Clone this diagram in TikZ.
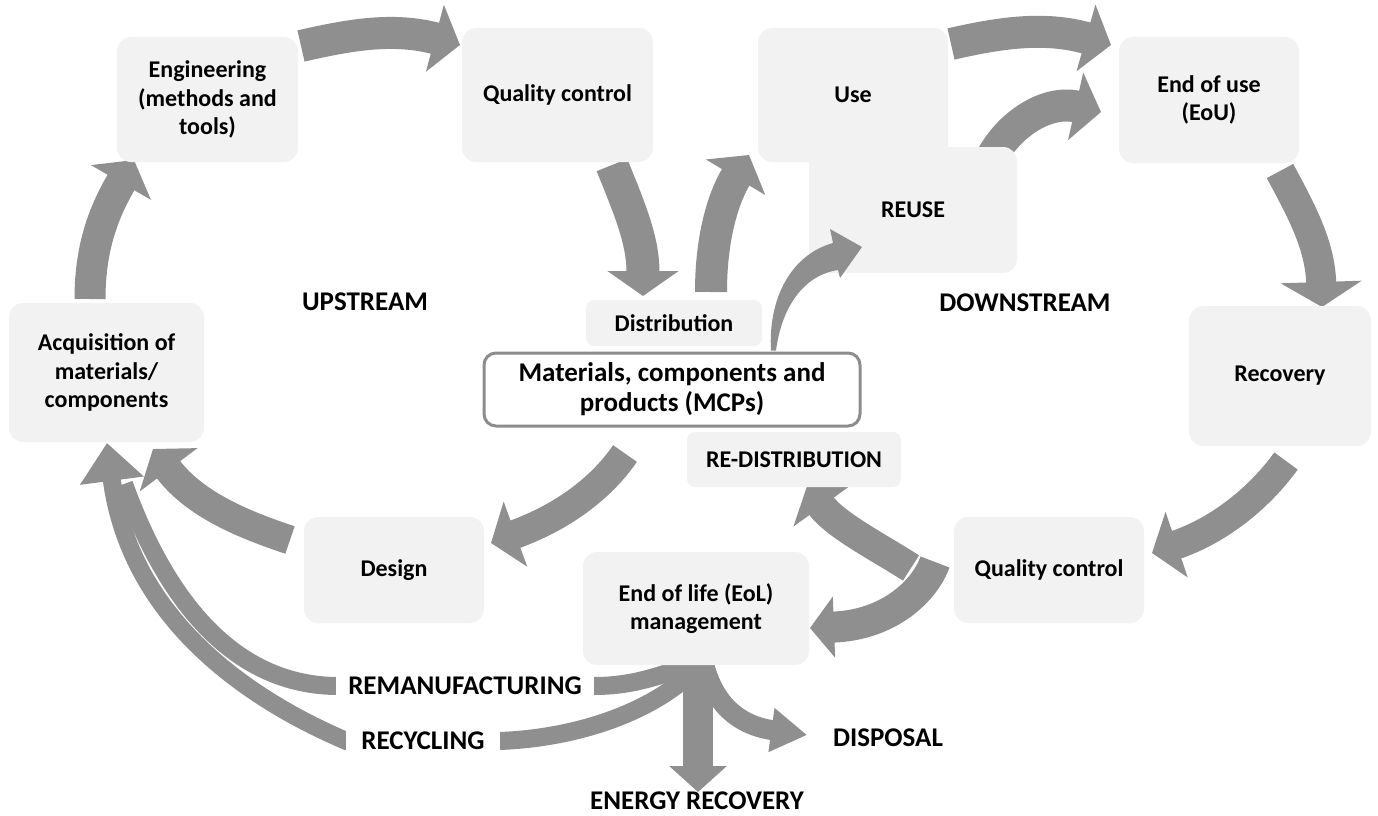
\documentclass[tikz,border=0pt]{standalone}
\usepackage{fontspec}
\setmainfont{Carlito}
\usetikzlibrary{arrows.meta,backgrounds}

\definecolor{boxgray}{HTML}{F2F2F2}
\definecolor{arrowgray}{HTML}{8F8F8F}
\definecolor{framegray}{HTML}{8C8C8C}

\tikzset{
  stage/.style={fill=boxgray, rounded corners=14pt, align=center, inner sep=2pt, outer sep=0pt,
    font=\bfseries\fontsize{24}{28.5}\selectfont},
  tag/.style={font=\bfseries\fontsize{27}{32}\selectfont, inner sep=2pt, outer sep=0pt},
  flow/.style={draw=arrowgray, line width=#1, line cap=butt, -{Triangle[length=26pt, width=68pt]}},
  flow/.default=31pt,
}

\begin{document}
\begin{tikzpicture}[x=1pt, y=-1pt]
\useasboundingbox (0,0) rectangle (1378,816);

% stages
\node[stage, minimum width=181pt, minimum height=125pt] (eng)    at (207.5,99.5) {Engineering\\(methods and\\tools)};
\node[stage, minimum width=191pt, minimum height=134pt] (qcup)   at (557.5,95)   {Quality control};
\node[stage, minimum width=190pt, minimum height=134pt] (use)    at (853,95)     {Use};
\node[stage, minimum width=208pt, minimum height=126pt] (reuse)  at (913,210)    {REUSE};
\node[stage, minimum width=180pt, minimum height=126pt] (eou)    at (1209,100)   {End of use\\(EoU)};
\node[stage, minimum width=182pt, minimum height=140pt] (recov)  at (1280,376)   {Recovery};
\node[stage, minimum width=190pt, minimum height=106pt] (qcdown) at (1049,570)   {Quality control};
\node[stage, minimum width=214pt, minimum height=55pt, rounded corners=8pt] (redist) at (794,459.5) {RE-DISTRIBUTION};
\node[stage, minimum width=226pt, minimum height=113pt] (eol)    at (696,608.5)  {End of life (EoL)\\management};
\node[stage, minimum width=180pt, minimum height=106pt] (design) at (394,570)    {Design};
\node[stage, minimum width=195pt, minimum height=139pt] (acq)    at (106.5,372.5) {Acquisition of\\materials/\\components};
\node[stage, minimum width=176pt, minimum height=46pt, rounded corners=8pt] (dist) at (674,323) {Distribution};
\node[draw=framegray, line width=3pt, fill=white, rounded corners=12pt, minimum width=376pt, minimum height=73pt,
  align=center, font=\bfseries\fontsize{27}{30}\selectfont] (mcp) at (672,389.5) {Materials, components and\\products (MCPs)};

% free labels
\node[tag] (up)   at (365,302)  {UPSTREAM};
\node[tag] (down) at (1025,303) {DOWNSTREAM};
\node[tag, fill=white, inner xsep=12pt, inner ysep=6pt] (reman) at (465,686) {REMANUFACTURING};
\node[tag, fill=white, inner xsep=15pt, inner ysep=6pt] (recyc) at (423,741) {RECYCLING};
\node[tag] (disp)   at (888,738) {DISPOSAL};
\node[tag] (energy) at (697,801) {ENERGY RECOVERY};

\begin{scope}[on background layer]
  % upstream loop
  \draw[flow=32pt] ([shift={(3,9)}]eng.north east) .. controls (349,35) and (393,27) .. ([shift={(-2,17)}]qcup.north west);
  \draw[flow=33pt, -{Triangle[length=25pt, width=70pt]}] ([shift={(54.5,3)}]qcup.south) .. controls (630,210) and (643,240) .. ([shift={(-31,-4)}]dist.north);
  \draw[flow=32pt] ([shift={(37,-8)}]dist.north) .. controls (711,240) and (722,200) .. ([shift={(-9,-7)}]use.south west);
  \draw[flow=29pt] ([shift={(-47,26)}]mcp.south) .. controls (600,490) and (560,518) .. ([shift={(7,-27)}]design.east);
  \draw[flow=29pt, -{Triangle[length=26pt, width=71pt]}] ([shift={(-14,-30)}]design.west) .. controls (245,525) and (195,505) .. ([shift={(46.5,7)}]acq.south);
  \draw[flow=31pt] ([shift={(-16.5,-4)}]acq.north) .. controls (90,245) and (105,210) .. ([shift={(17,-2)}]eng.south west);
  % downstream loop
  \draw[flow=32pt] ([shift={(3,16)}]use.north east) .. controls (999,33) and (1044,26) .. ([shift={(-8,8)}]eou.north west);
  \draw[flow=32pt] ([shift={(72,25)}]reuse.north) .. controls (1000,130) and (1043,99) .. ([shift={(-18,12)}]eou.west);
  \draw[flow=30pt, -{Triangle[length=25pt, width=80pt]}] ([shift={(71,8)}]eou.south) .. controls (1302,212) and (1320,245) .. ([shift={(42,1)}]recov.north);
  \draw[flow=29pt] ([shift={(6,15)}]recov.south) .. controls (1260,497) and (1220,530) .. ([shift={(8,-17)}]qcdown.east);
  \draw[flow=31pt, -{Triangle[length=24pt, width=60pt]}] ([shift={(-19,-8)}]qcdown.west) .. controls (925,590) and (890,625) .. ([shift={(1,19.5)}]eol.east);
  \draw[flow=30pt, -{Triangle[length=25pt, width=68pt]}] ([shift={(-43,-2)}]qcdown.west) .. controls (880,548) and (835,525) .. ([shift={(13,-1)}]redist.south);
  % end of life options
  \draw[flow=18pt, -] ([shift={(4,-5)}]eol.south) .. controls (650,682) and (620,686) .. (reman.east) -- (reman.west)
    .. controls (250,685) and (175,625) .. ([shift={(17.5,42)}]acq.south);
  \draw[flow=18pt, -{Triangle[length=38pt, width=62pt]}] ([shift={(6,-3)}]eol.south) .. controls (660,710) and (580,738) .. (recyc.east) -- (recyc.west)
    .. controls (250,700) and (130,620) .. ([shift={(0.5,1)}]acq.south);
  \draw[flow=30pt, -{Triangle[length=26pt, width=56pt]}] ([shift={(2,-10)}]eol.south) -- ([shift={(1,2)}]energy.north);
  \draw[flow=20pt, -{Triangle[length=36pt, width=42pt]}] ([shift={(7,-5)}]eol.south) .. controls (712,700) and (735,725) .. ([shift={(-24,-3)}]disp.west);
\end{scope}

% tapered arrow drawn over the REUSE box
\fill[arrowgray] ([shift={(99,-1)}]mcp.north) .. controls (768,300) and (790,255) .. (833,243) -- (830,229)
  -- ([shift={(53,37)}]reuse.west) -- (840,278) -- (838,270) .. controls (805,275) and (782,305) .. ([shift={(104,-1)}]mcp.north) -- cycle;
\end{tikzpicture}
\end{document}
